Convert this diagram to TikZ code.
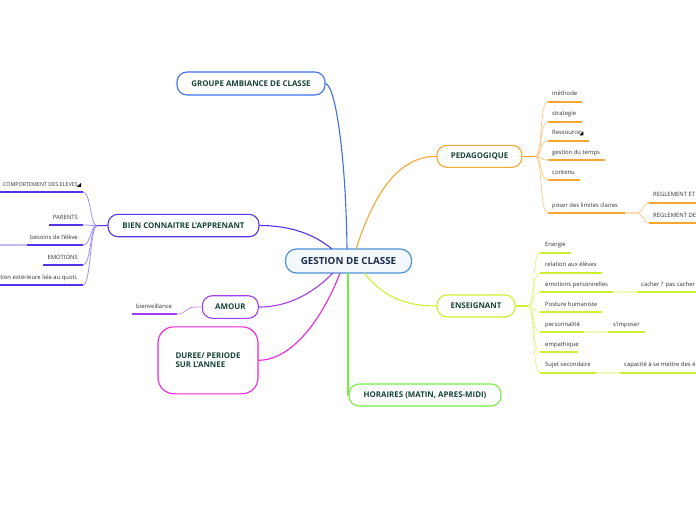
\documentclass[tikz,border=0pt]{standalone}
\usepackage{fontspec}
\setmainfont{Open Sans}
\definecolor{txt}{HTML}{17443A}
\definecolor{ctxt}{HTML}{1C2B4A}
\definecolor{cblue}{HTML}{4B92D6}
\definecolor{cfill}{HTML}{F4F9FD}
\definecolor{gblue}{HTML}{3F6FF0}
\definecolor{porange}{HTML}{F9A531}
\definecolor{elime}{HTML}{CCF033}
\definecolor{hgreen}{HTML}{77EE44}
\definecolor{bpurple}{HTML}{5533EE}
\definecolor{aviolet}{HTML}{A53CF2}
\definecolor{dmag}{HTML}{EE22DD}
\definecolor{ltxt}{HTML}{333333}
\tikzset{
  mainbox/.style={draw=#1, line width=1.1pt, rounded corners=10pt, fill=white,
    font=\fontsize{7.9}{9.6}\selectfont\bfseries, text=txt, inner sep=0pt},
  conn/.style={draw=#1, line width=1.1pt},
  subconn/.style={draw=#1!55, line width=0.8pt},
  ul/.style={draw=#1, line width=1.8pt},
  lul/.style={draw=#1!35, line width=1.8pt},
  lbl/.style={font=\fontsize{5.9}{7}\selectfont, text=ltxt, inner sep=0pt},
}
\begin{document}
\begin{tikzpicture}[x=1pt,y=-1pt]
\useasboundingbox (0,0) rectangle (696,520);

% ---------- main nodes ----------
\node[draw=cblue, line width=1.2pt, rounded corners=11pt, fill=cfill,
  minimum width=126pt, minimum height=24pt, inner sep=0pt,
  font=\fontsize{9.8}{11}\selectfont\bfseries, text=ctxt] (center) at (348.5,261) {GESTION DE CLASSE};

\node[mainbox=gblue, minimum width=148pt, minimum height=23pt] (groupe) at (251,83.5) {GROUPE AMBIANCE DE CLASSE};
\node[mainbox=porange, minimum width=85pt, minimum height=22pt] (peda) at (479.5,156.3) {PEDAGOGIQUE};
\node[mainbox=elime, minimum width=78pt, minimum height=22pt] (ens) at (476,306) {ENSEIGNANT};
\node[mainbox=hgreen, minimum width=152pt, minimum height=22pt] (hor) at (425,395) {HORAIRES (MATIN, APRES-MIDI)};
\node[mainbox=bpurple, minimum width=151pt, minimum height=22.4pt] (bien) at (183.5,225.5) {BIEN CONNAITRE L'APPRENANT};
\node[mainbox=aviolet, minimum width=56pt, minimum height=22.6pt] (amour) at (230.3,307) {AMOUR};
\node[mainbox=dmag, rounded corners=16pt, minimum width=100pt, minimum height=67pt, align=left] (duree) at (208,360.3) {DUREE/ PERIODE\\SUR L'ANNEE};

% ---------- main connectors ----------
\coordinate (cN1) at (347,249);
\coordinate (cN2) at (356,249);
\coordinate (cNW) at (332,249);
\coordinate (cS1) at (333,273);
\coordinate (cS2) at (340,273);
\coordinate (cS3) at (348,273);
\coordinate (cS4) at (364,273);
\path[conn=gblue] (groupe.east) .. controls (336,86) and (346,160) .. (cN1);
\path[conn=porange] (cN2) .. controls (372,200) and (395,156.3) .. (peda.west);
\path[conn=bpurple] (bien.east) .. controls (292,225.5) and (315,235) .. (cNW);
\path[conn=aviolet] (amour.east) .. controls (292,307) and (316,290) .. (cS1);
\path[conn=dmag] (duree.east) .. controls (296,360) and (326,310) .. (cS2);
\path[conn=hgreen] (cS3) -- (348,395) -- (hor.west);
\path[conn=elime] (cS4) .. controls (386,300) and (410,306) .. (ens.west);

% ---------- PEDAGOGIQUE children ----------
\coordinate (pb) at (535,156.3);
\path[conn=porange] (peda.east) -- (pb);
\foreach \y/\e/\t [count=\i] in {101.7/582/méthode, 121.7/582/strategie, 140.7/589/Ressources, 160/605/gestion du temps, 180/580/contenu, 213/625/poser des limites claires}{
  \coordinate (pl\i) at (548,\y);
  \coordinate (pr\i) at (\e,\y);
  \path[subconn=porange] (pb) .. controls (543,156.3) and (539,\y) .. (pl\i);
  \path[ul=porange] (pl\i) -- (pr\i);
  \node[lbl, anchor=base west] (pt\i) at (552,\y-6) {\t};
}
\fill ([xshift=-4pt,yshift=-0.5pt]pt3.south east) -- ([yshift=-0.5pt]pt3.south east) -- ([yshift=3.5pt]pt3.south east) -- cycle;
\coordinate (pb2) at (637,213);
\path[lul=porange] (pr6) -- (pb2);
\coordinate (rl1) at (649,202.7);
\coordinate (rl2) at (649,223);
\coordinate (rr1) at (696,202.7);
\coordinate (rr2) at (696,223);
\path[subconn=porange] (pb2) .. controls (643,213) and (643,202.7) .. (rl1);
\path[subconn=porange] (pb2) .. controls (643,213) and (643,223) .. (rl2);
\path[ul=porange] (rl1) -- (rr1);
\path[ul=porange] (rl2) -- (rr2);
\node[lbl, anchor=base west] (reg1) at (653,196.7) {REGLEMENT ET};
\node[lbl, anchor=base west] (reg2) at (653,217) {REGLEMENT DE};

% ---------- ENSEIGNANT children ----------
\coordinate (eb) at (528,306);
\path[conn=elime] (ens.east) -- (eb);
\foreach \y/\e/\t [count=\i] in {252.7/571/Energie, 272.7/602/relation aux élèves, 292.3/613/émotions personnelles, 312.3/602/Posture humaniste, 332.3/584/personnalité, 352/578/empathique, 372.7/596/Sujet secondaire}{
  \coordinate (el\i) at (540,\y);
  \coordinate (er\i) at (\e,\y);
  \path[subconn=elime] (eb) .. controls (535,306) and (532,\y) .. (el\i);
  \path[ul=elime] (el\i) -- (er\i);
  \node[lbl, anchor=base west] (et\i) at (545,\y-6) {\t};
}
\coordinate (ec3a) at (637,292.3);
\coordinate (ec3b) at (696,292.3);
\path[lul=elime] (er3) -- (ec3a);
\path[ul=elime] (ec3a) -- (ec3b);
\node[lbl, anchor=base west] (cach) at (641,286.3) {cacher ? pas cacher};
\coordinate (ec5a) at (608,332.3);
\coordinate (ec5b) at (645,332.3);
\path[lul=elime] (er5) -- (ec5a);
\path[ul=elime] (ec5a) -- (ec5b);
\node[lbl, anchor=base west] (simp) at (613,326.3) {s'imposer};
\coordinate (ec7a) at (620,372.7);
\coordinate (ec7b) at (696,372.7);
\path[lul=elime] (er7) -- (ec7a);
\path[ul=elime] (ec7a) -- (ec7b);
\node[lbl, anchor=base west] (capa) at (624,366.7) {capacité à se mettre des é};

% ---------- BIEN CONNAITRE children ----------
\coordinate (bb) at (97,225.7);
\path[conn=bpurple] (bien.west) -- (bb);
\foreach \y/\s/\t [count=\i] in {192/0/COMPORTEMENT DES ELEVES, 225/49/PARENTS, 245/27/besoins de l'élève, 265/43/EMOTIONS, 285/0/tion extérieure liée au quoti.}{
  \coordinate (br\i) at (83,\y);
  \coordinate (bl\i) at (\s,\y);
  \path[subconn=bpurple] (bb) .. controls (90,225.7) and (91,\y) .. (br\i);
  \path[ul=bpurple] (br\i) -- (bl\i);
}
\node[lbl, anchor=base east, font=\fontsize{5.4}{6.5}\selectfont] (bt1) at (78,186) {COMPORTEMENT DES ELEVES};
\node[lbl, anchor=base east] (bt2) at (78,219) {PARENTS};
\node[lbl, anchor=base east] (bt3) at (78,239) {besoins de l'élève};
\node[lbl, anchor=base east] (bt4) at (78,259) {EMOTIONS};
\node[lbl, anchor=base east] (bt5) at (78,279) {tion extérieure liée au quoti.};
\coordinate (bx) at (0,245);
\path[lul=bpurple] (bl3) -- (bx);
\fill ([xshift=-1pt,yshift=-0.5pt]bt1.south east) -- ([xshift=3pt,yshift=-0.5pt]bt1.south east) -- ([xshift=3pt,yshift=3.5pt]bt1.south east) -- cycle;

% ---------- AMOUR child ----------
\coordinate (al) at (132,314);
\coordinate (ar) at (177,314);
\path[ul=aviolet] (al) -- (ar);
\path[subconn=aviolet] (ar) .. controls (186,314) and (186,307) .. (195,307) -- (amour.west);
\node[lbl, anchor=base west] (bienv) at (136,308) {bienveillance};

\end{tikzpicture}
\end{document}
